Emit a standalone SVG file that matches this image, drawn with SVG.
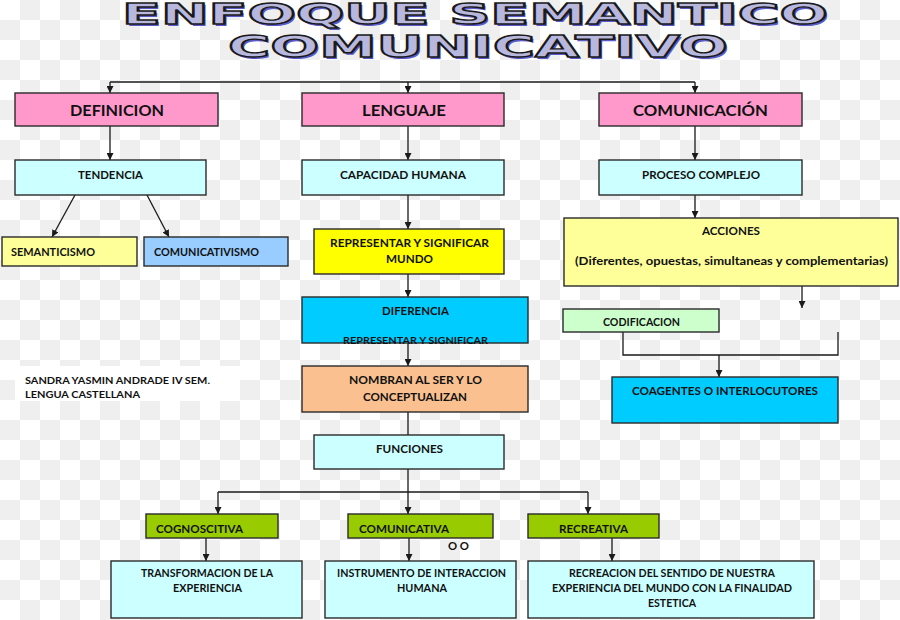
<svg xmlns="http://www.w3.org/2000/svg" width="900" height="620" viewBox="0 0 900 620">
<defs>
<pattern id="checker" x="0" y="0" width="40" height="40" patternUnits="userSpaceOnUse">
<rect width="40" height="40" fill="#ffffff"/>
<rect x="20" y="0" width="20" height="20" fill="#efefef"/>
<rect x="0" y="20" width="20" height="20" fill="#efefef"/>
</pattern>
<marker id="arr" viewBox="0 0 8 8" refX="8" refY="4" markerWidth="7" markerHeight="7" markerUnits="userSpaceOnUse" orient="auto">
<path d="M0,0 L8,4 L0,8 z" fill="#1a1a1a"/>
</marker>
</defs>
<style>
.box{stroke:#2a2a2a;stroke-width:1.4}
.pink{fill:#ff99cc}
.lcyan{fill:#ccffff}
.lyel{fill:#ffff99}
.lblue{fill:#99ccff}
.yel{fill:#ffff00}
.cyan{fill:#00ccff}
.peach{fill:#fac090}
.lgreen{fill:#ccffcc}
.green{fill:#99cc00}
.t{font-family:Lato,"Open Sans","Liberation Sans",sans-serif;font-weight:700;fill:#111;text-anchor:middle}
.h{font-size:16px}
.s{font-size:12px}
.xs{font-size:10px}
.l{text-anchor:start}
.title{font-family:"DejaVu Sans","Liberation Sans",sans-serif;font-weight:700}
.tf{fill:#b8b8df;stroke:#1a1a1a;stroke-width:1.4}
.ts{fill:#5a5ac8}
.con{stroke:#1a1a1a;stroke-width:1.3;fill:none}
</style>
<rect width="900" height="620" fill="url(#checker)"/>
<rect x="15" y="366" width="225" height="35" fill="#ffffff"/>

<g id="title">
<text class="title ts" x="124" y="26" font-size="29" textLength="706" lengthAdjust="spacingAndGlyphs">ENFOQUE SEMANTICO</text>
<text class="title tf" x="122" y="24" font-size="29" textLength="706" lengthAdjust="spacingAndGlyphs">ENFOQUE SEMANTICO</text>
<text class="title ts" x="230" y="59" font-size="31" textLength="500" lengthAdjust="spacingAndGlyphs">COMUNICATIVO</text>
<text class="title tf" x="228" y="57" font-size="31" textLength="500" lengthAdjust="spacingAndGlyphs">COMUNICATIVO</text>
</g>

<g id="connectors">
<line class="con" x1="110" y1="82" x2="695" y2="82"/>
<line class="con" x1="110" y1="82" x2="110" y2="93" marker-end="url(#arr)"/>
<line class="con" x1="408" y1="82" x2="408" y2="93" marker-end="url(#arr)"/>
<line class="con" x1="695" y1="82" x2="695" y2="93" marker-end="url(#arr)"/>
<line class="con" x1="110" y1="126" x2="110" y2="160" marker-end="url(#arr)"/>
<line class="con" x1="408" y1="126" x2="408" y2="160" marker-end="url(#arr)"/>
<line class="con" x1="695" y1="126" x2="695" y2="160" marker-end="url(#arr)"/>
<line class="con" x1="75" y1="195" x2="52" y2="237" marker-end="url(#arr)"/>
<line class="con" x1="147" y1="195" x2="169" y2="237" marker-end="url(#arr)"/>
<line class="con" x1="408" y1="195" x2="408" y2="229" marker-end="url(#arr)"/>
<line class="con" x1="408" y1="274" x2="408" y2="297" marker-end="url(#arr)"/>
<line class="con" x1="408" y1="343" x2="408" y2="366" marker-end="url(#arr)"/>
<line class="con" x1="408" y1="412" x2="408" y2="435"/>
<line class="con" x1="408" y1="469" x2="408" y2="514" marker-end="url(#arr)"/>
<line class="con" x1="218" y1="492" x2="588" y2="492"/>
<line class="con" x1="218" y1="492" x2="218" y2="514" marker-end="url(#arr)"/>
<line class="con" x1="588" y1="492" x2="588" y2="514" marker-end="url(#arr)"/>
<line class="con" x1="206" y1="538" x2="206" y2="561" marker-end="url(#arr)"/>
<line class="con" x1="409" y1="538" x2="409" y2="561" marker-end="url(#arr)"/>
<line class="con" x1="612" y1="538" x2="612" y2="561" marker-end="url(#arr)"/>
<line class="con" x1="695" y1="195" x2="695" y2="218" marker-end="url(#arr)"/>
<line class="con" x1="802" y1="286" x2="802" y2="308" marker-end="url(#arr)"/>
<polyline class="con" points="623,332 623,355 838,355 838,332"/>
<line class="con" x1="719" y1="355" x2="719" y2="377" marker-end="url(#arr)"/>
</g>

<g id="definicion"><rect class="box pink" x="15" y="93" width="203" height="33"/><text class="t h" x="117" y="115.5" textLength="94" lengthAdjust="spacingAndGlyphs">DEFINICION</text></g>
<g id="lenguaje"><rect class="box pink" x="302" y="93" width="202" height="33"/><text class="t h" x="404" y="115.5" textLength="84" lengthAdjust="spacingAndGlyphs">LENGUAJE</text></g>
<g id="comunicacion"><rect class="box pink" x="599" y="93" width="203" height="33"/><text class="t h" x="700.5" y="115.5" textLength="135" lengthAdjust="spacingAndGlyphs">COMUNICACIÓN</text></g>

<g id="tendencia"><rect class="box lcyan" x="15" y="160" width="191" height="35"/><text class="t s" x="110.5" y="179" textLength="65" lengthAdjust="spacingAndGlyphs">TENDENCIA</text></g>
<g id="capacidad"><rect class="box lcyan" x="302" y="160" width="202" height="35"/><text class="t s" x="403" y="179" textLength="126" lengthAdjust="spacingAndGlyphs">CAPACIDAD HUMANA</text></g>
<g id="proceso"><rect class="box lcyan" x="599" y="160" width="203" height="35"/><text class="t s" x="701" y="179" textLength="118" lengthAdjust="spacingAndGlyphs">PROCESO COMPLEJO</text></g>

<g id="semanticismo"><rect class="box lyel" x="2" y="237" width="135" height="29"/><text class="t s l" x="11" y="256" textLength="84" lengthAdjust="spacingAndGlyphs">SEMANTICISMO</text></g>
<g id="comunicativismo"><rect class="box lblue" x="144" y="237" width="144" height="29"/><text class="t s l" x="154" y="256" textLength="105" lengthAdjust="spacingAndGlyphs">COMUNICATIVISMO</text></g>

<g id="representar"><rect class="box yel" x="314" y="229" width="190" height="45"/><text class="t s" x="409.5" y="247" textLength="159" lengthAdjust="spacingAndGlyphs">REPRESENTAR Y SIGNIFICAR</text><text class="t s" x="409.5" y="263" textLength="47" lengthAdjust="spacingAndGlyphs">MUNDO</text></g>

<g id="diferencia"><rect class="box cyan" x="302" y="297" width="226" height="46"/><text class="t s" x="415.5" y="315" textLength="67" lengthAdjust="spacingAndGlyphs">DIFERENCIA</text><text class="t xs" x="415.5" y="344" textLength="145" lengthAdjust="spacingAndGlyphs">REPRESENTAR Y SIGNIFICAR</text></g>

<g id="nombran"><rect class="box peach" x="302" y="366" width="226" height="46"/><text class="t s" x="415.5" y="384" textLength="133" lengthAdjust="spacingAndGlyphs">NOMBRAN AL SER Y LO</text><text class="t s" x="415" y="401" textLength="104" lengthAdjust="spacingAndGlyphs">CONCEPTUALIZAN</text></g>

<g id="funciones"><rect class="box lcyan" x="314" y="435" width="190" height="34"/><text class="t s" x="409.5" y="453" textLength="67" lengthAdjust="spacingAndGlyphs">FUNCIONES</text></g>

<g id="acciones"><rect class="box lyel" x="564" y="218" width="334" height="68"/><text class="t s" x="731" y="235" textLength="58" lengthAdjust="spacingAndGlyphs">ACCIONES</text><text class="t s" x="731.5" y="265" textLength="313" lengthAdjust="spacingAndGlyphs">(Diferentes, opuestas, simultaneas y complementarias)</text></g>

<g id="codificacion"><rect class="box lgreen" x="563" y="309" width="156" height="23"/><text class="t s" x="641.5" y="326" textLength="77" lengthAdjust="spacingAndGlyphs">CODIFICACION</text></g>

<g id="coagentes"><rect class="box cyan" x="612" y="377" width="226" height="46"/><text class="t s" x="725" y="395" textLength="186" lengthAdjust="spacingAndGlyphs">COAGENTES O INTERLOCUTORES</text></g>

<g id="autor"><text class="t xs l" x="25" y="384" textLength="185" lengthAdjust="spacingAndGlyphs">SANDRA YASMIN ANDRADE IV SEM.</text><text class="t xs l" x="25" y="398" textLength="115" lengthAdjust="spacingAndGlyphs">LENGUA  CASTELLANA</text></g>

<g id="cognoscitiva"><rect class="box green" x="146" y="514" width="132" height="24"/><text class="t s l" x="156" y="533" textLength="87" lengthAdjust="spacingAndGlyphs">COGNOSCITIVA</text></g>
<g id="comunicativa"><rect class="box green" x="348" y="514" width="145" height="24"/><text class="t s l" x="359" y="533" textLength="90" lengthAdjust="spacingAndGlyphs">COMUNICATIVA</text></g>
<g id="oo"><text class="t s l" x="448" y="550" textLength="21" lengthAdjust="spacingAndGlyphs">O O</text></g>
<g id="recreativa"><rect class="box green" x="528" y="514" width="131" height="24"/><text class="t s l" x="559" y="533" textLength="69" lengthAdjust="spacingAndGlyphs">RECREATIVA</text></g>

<g id="transformacion"><rect class="box lcyan" x="111" y="561" width="191" height="57"/><text class="t s" x="207" y="577" textLength="132" lengthAdjust="spacingAndGlyphs">TRANSFORMACION DE LA</text><text class="t s" x="207.5" y="592" textLength="69" lengthAdjust="spacingAndGlyphs">EXPERIENCIA</text></g>
<g id="instrumento"><rect class="box lcyan" x="325" y="561" width="191" height="57"/><text class="t s" x="421.5" y="577" textLength="169" lengthAdjust="spacingAndGlyphs">INSTRUMENTO DE INTERACCION</text><text class="t s" x="422" y="592" textLength="50" lengthAdjust="spacingAndGlyphs">HUMANA</text></g>
<g id="recreacion"><rect class="box lcyan" x="528" y="561" width="286" height="57"/><text class="t s" x="672" y="577" textLength="206" lengthAdjust="spacingAndGlyphs">RECREACION DEL SENTIDO DE NUESTRA</text><text class="t s" x="672" y="592" textLength="240" lengthAdjust="spacingAndGlyphs">EXPERIENCIA DEL MUNDO  CON LA FINALIDAD</text><text class="t s" x="672" y="607" textLength="48" lengthAdjust="spacingAndGlyphs">ESTETICA</text></g>
</svg>
